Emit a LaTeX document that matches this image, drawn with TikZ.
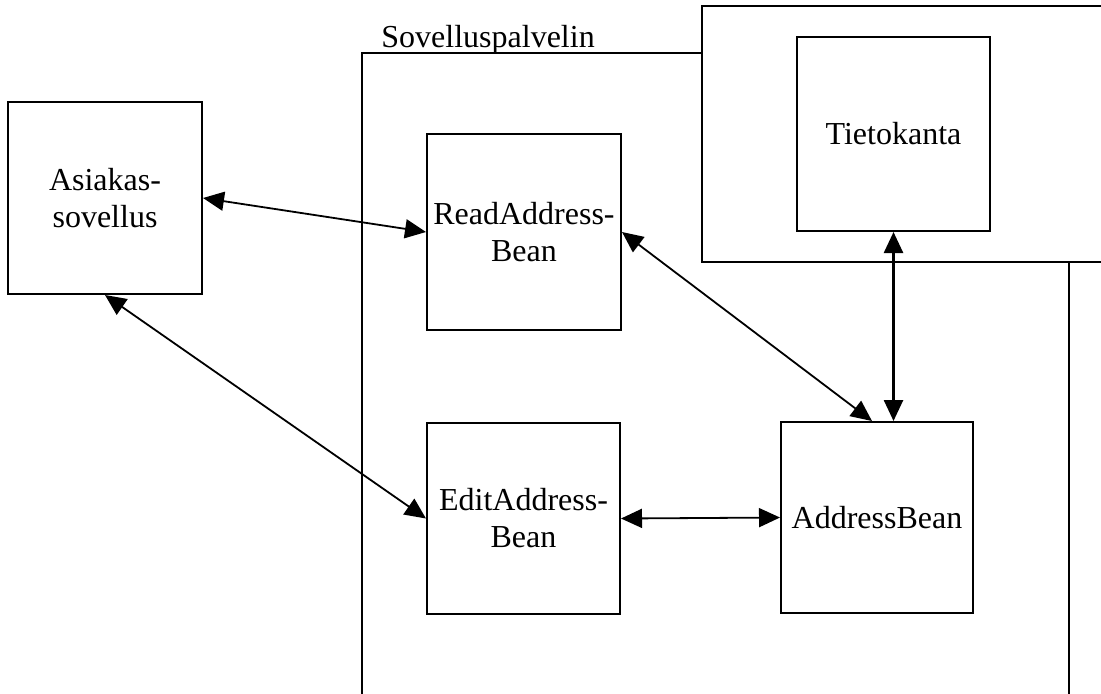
\documentclass[tikz,border=0pt]{standalone}
\usepackage{fontspec}
\setmainfont{Liberation Serif}
\usetikzlibrary{arrows.meta}

\begin{document}
\begin{tikzpicture}[x=0.5pt,y=-0.5pt,
  box/.style={draw, line width=1pt, rectangle, align=center,
    font=\fontsize{16}{18.5}\selectfont, inner sep=0pt},
  frame/.style={draw, line width=1pt},
  link/.style={line width=0.9pt,
    {Triangle[length=10.5pt,width=9.5pt]}-{Triangle[length=10.5pt,width=9.5pt]}}]

\useasboundingbox (0,0) rectangle (1101,693);
\clip (0,0) rectangle (1101,693);
\fill[white] (0,0) rectangle (1101,693);

% application server frame (open at the bottom)
\draw[frame] (362,700) -- (362,53) -- (702,53);
\draw[frame] (1069,262) -- (1069,700);
\node[anchor=base west, font=\fontsize{16}{18.5}\selectfont, inner sep=0pt]
  (server) at (381,47) {Sovelluspalvelin};

% database frame
\draw[frame] (1120,6) -- (702,6) -- (702,262) -- (1120,262);

% components
\node[box, minimum width=97pt, minimum height=96pt] (client) at (105,198)
  {Asiakas-\\sovellus};
\node[box, minimum width=97pt, minimum height=98pt] (read) at (524,232)
  {ReadAddress-\\Bean};
\node[box, minimum width=96.5pt, minimum height=95.5pt] (edit) at (523.5,518.5)
  {EditAddress-\\Bean};
\node[box, minimum width=96pt, minimum height=95.5pt] (addr) at (877,517.5)
  {AddressBean};
\node[box, minimum width=96.5pt, minimum height=97pt] (db) at (893.5,134)
  {Tietokanta};

% connectors
\draw[link] (client.east) -- (read.west);
\draw[link] (client.south) -- (edit.west);
\draw[link] (read.east) -- ([xshift=-2.5pt]addr.north);
\draw[link] (edit.east) -- (addr.west);
\draw[link, line width=1.3pt] (db.south) -- (db.south |- addr.north);
\end{tikzpicture}
\end{document}
